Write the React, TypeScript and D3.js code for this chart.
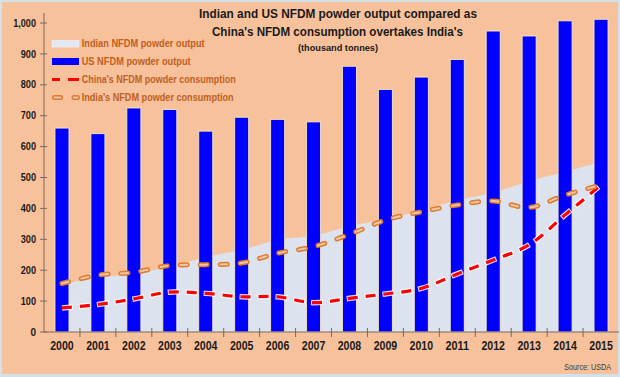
import React from "react";
import * as d3 from "d3";

const years = ["2000","2001","2002","2003","2004","2005","2006","2007","2008","2009","2010","2011","2012","2013","2014","2015"];
const usOutput = [660, 642, 725, 720, 650, 695, 688, 680, 860, 785, 825, 882, 974, 958, 1007, 1012];
const indiaOutput = [155, 177, 188, 210, 243, 265, 300, 310, 343, 365, 392, 427, 450, 489, 519, 550];
const chinaConsumption = [78, 89, 107, 129, 125, 114, 114, 95, 109, 123, 141, 188, 233, 282, 379, 476];
const indiaConsumption = [157, 184, 193, 215, 218, 223, 255, 276, 316, 362, 389, 411, 424, 403, 443, 476];
const yTicks = [0, 100, 200, 300, 400, 500, 600, 700, 800, 900, 1000];
const titleLines = ["Indian and US NFDM powder output compared as", "China's NFDM consumption overtakes India's"];
const subtitle = "(thousand tonnes)";
const legendLabels = ["Indian NFDM powder output", "US NFDM powder output", "China's NFDM powder consumption", "India's NFDM powder consumption"];
const source = "Source: USDA";

const FONT = "'Liberation Sans', Arial, sans-serif";

export default function App() {
  const W = 620, H = 377;
  const x = d3.scaleBand<string>().domain(years).range([44, 619]).padding(0);
  const y = d3.scaleLinear().domain([0, 1000]).range([332, 23]);
  const cx = (i: number) => (x(years[i]) as number) + x.bandwidth() / 2;
  const barW = 14;

  const areaGen = d3.area<number>().x((d, i) => cx(i)).y0(y(0)).y1((d) => y(d));
  const lineGen = d3.line<number>().x((d, i) => cx(i)).y((d) => y(d)).curve(d3.curveCatmullRom.alpha(0.5));
  const fmt = d3.format(",");

  const legendText = "#c0601f";
  const axisColor = "#7a6a5a";
  const peach = "#f7c19b";

  const legendWidths = [123, 109, 154, 152];
  const legendBase = [47.3, 65.3, 83.3, 101];

  return (
    <svg width={W} height={H} style={{ position: "absolute", left: 0, top: 0 }} fontFamily={FONT}>
      <rect x={0} y={0} width={W} height={H} fill="#d3e2ea" />
      <rect x={2} y={2} width={W - 4} height={H - 5} fill={peach} />

      {/* Indian output area */}
      <path d={areaGen(indiaOutput) || ""} fill="#dce3ee" />

      {/* US bars */}
      {usOutput.map((v, i) => (
        <rect key={"b" + i} x={cx(i) - barW / 2} y={y(v)} width={barW} height={y(0) - y(v)}
          fill="#0000ff" stroke="#fff0b8" strokeWidth={1} strokeOpacity={0.85} />
      ))}

      {/* axes */}
      <line x1={44} x2={44} y1={13} y2={332} stroke={axisColor} strokeWidth={1} />
      <line x1={44} x2={619} y1={332} y2={332} stroke={axisColor} strokeWidth={1} />
      {yTicks.map((t) => (
        <g key={"yt" + t}>
          <line x1={40} x2={47} y1={y(t)} y2={y(t)} stroke={axisColor} strokeWidth={1} />
          <text x={36} y={y(t) + 3.6} textAnchor="end" fontSize={10} fontWeight="bold" fill="#1a1a1a"
            textLength={fmt(t).length > 1 ? fmt(t).replace(/,/g, "").length * 5.1 + (fmt(t).includes(",") ? 2.4 : 0) : undefined}
            lengthAdjust="spacingAndGlyphs">{fmt(t)}</text>
        </g>
      ))}
      {years.slice(1).map((yr) => (
        <line key={"xt" + yr} x1={x(yr) as number} x2={x(yr) as number} y1={328} y2={337} stroke={axisColor} strokeWidth={1} />
      ))}
      {years.map((yr, i) => (
        <text key={"xl" + yr} x={cx(i)} y={349.5} textAnchor="middle" fontSize={12.5} fontWeight="bold" fill="#1a1a1a"
          textLength={23.5} lengthAdjust="spacingAndGlyphs">{yr}</text>
      ))}

      {/* China consumption */}
      <path d={lineGen(chinaConsumption) || ""} fill="none" stroke="#ffffff" strokeOpacity={0.85} strokeWidth={5.5}
        strokeDasharray="12 6" strokeDashoffset={1} />
      <path d={lineGen(chinaConsumption) || ""} fill="none" stroke="#ff0000" strokeWidth={3.2} strokeDasharray="10 8" />

      {/* India consumption */}
      <path d={lineGen(indiaConsumption) || ""} fill="none" stroke="#e07a2c" strokeWidth={5} strokeLinecap="round"
        strokeDasharray="7 13" />
      <path d={lineGen(indiaConsumption) || ""} fill="none" stroke="#eec6a8" strokeWidth={2} strokeLinecap="round"
        strokeDasharray="7 13" />

      {/* title */}
      <text x={338} y={17.5} textAnchor="middle" fontSize={12.6} fontWeight="bold" fill="#1a1a1a"
        textLength={278} lengthAdjust="spacingAndGlyphs">{titleLines[0]}</text>
      <text x={337.5} y={36} textAnchor="middle" fontSize={12.6} fontWeight="bold" fill="#1a1a1a"
        textLength={251} lengthAdjust="spacingAndGlyphs">{titleLines[1]}</text>
      <text x={338} y={50.5} textAnchor="middle" fontSize={8.8} fontWeight="bold" fill="#1a1a1a"
        textLength={80} lengthAdjust="spacingAndGlyphs">{subtitle}</text>

      {/* legend */}
      <rect x={52} y={40.5} width={27} height={6.5} fill="#e1e9f5" stroke="#f3f6fb" strokeWidth={0.6} />
      <rect x={52} y={58} width={27} height={7} fill="#0000ff" />
      <line x1={52} x2={60} y1={79.5} y2={79.5} stroke="#ff0000" strokeWidth={3} />
      <line x1={68} x2={79} y1={79.5} y2={79.5} stroke="#ff0000" strokeWidth={3} />
      <line x1={54.5} x2={60.5} y1={97.5} y2={97.5} stroke="#e07a2c" strokeWidth={5} strokeLinecap="round" />
      <line x1={54.5} x2={60.5} y1={97.5} y2={97.5} stroke="#eec6a8" strokeWidth={2} strokeLinecap="round" />
      <line x1={74} x2={77.5} y1={97.5} y2={97.5} stroke="#e07a2c" strokeWidth={5} strokeLinecap="round" />
      <line x1={74} x2={77.5} y1={97.5} y2={97.5} stroke="#eec6a8" strokeWidth={2} strokeLinecap="round" />
      {legendLabels.map((l, i) => (
        <text key={"lg" + i} x={81.7} y={legendBase[i]} fontSize={10.5} fontWeight="bold" fill={legendText}
          textLength={legendWidths[i]} lengthAdjust="spacingAndGlyphs">{l}</text>
      ))}

      <text x={611} y={369.5} textAnchor="end" fontSize={8.6} fill="#3a3a3a" textLength={46.7}
        lengthAdjust="spacingAndGlyphs">{source}</text>
    </svg>
  );
}
